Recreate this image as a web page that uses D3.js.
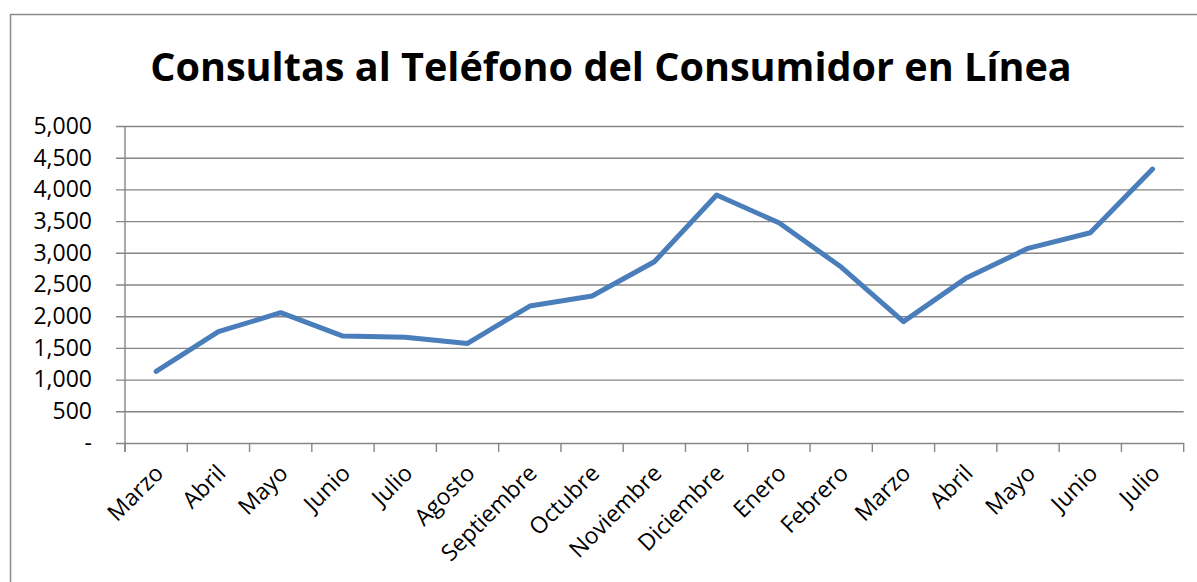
<!DOCTYPE html>
<html>
<head>
<meta charset="utf-8">
<script src="https://cdn.jsdelivr.net/npm/d3@7"></script>
<style>
    body { margin: 0; background: #fff; }
    text { font-family: "Open Sans", sans-serif; fill: #000; }
</style>
</head>
<body>
<div id="chartdiv"></div>
<script>

var meses = ["Marzo", "Abril", "Mayo", "Junio", "Julio", "Agosto", "Septiembre", "Octubre",
    "Noviembre", "Diciembre", "Enero", "Febrero", "Marzo", "Abril", "Mayo", "Junio", "Julio"];
var consultas = [1130, 1755, 2055, 1687, 1667, 1570, 2160, 2318,
    2859, 3911, 3474, 2775, 1915, 2597, 3070, 3317, 4321];
var yTicks = [0, 500, 1000, 1500, 2000, 2500, 3000, 3500, 4000, 4500, 5000];
var titulo = "Consultas al Teléfono del Consumidor en Línea";

var margin = {top: 126, right: 13.3, bottom: 139, left: 125},
    totalW = 1197, totalH = 582,
    width = totalW - margin.left - margin.right,
    height = totalH - margin.top - margin.bottom;

var svg = d3.select("#chartdiv").append("svg")
    .attr("width", totalW)
    .attr("height", totalH);

// chart border (runs off the right / bottom edge)
svg.append("rect")
    .attr("x", 10.5)
    .attr("y", 14.5)
    .attr("width", 1200)
    .attr("height", 600)
    .attr("fill", "none")
    .attr("stroke", "#8c8c8c")
    .attr("stroke-width", 1.5);

var title = svg.append("text")
    .attr("x", 611)
    .attr("y", 81)
    .attr("text-anchor", "middle")
    .style("font-weight", "bold")
    .style("font-size", "44px")
    .text(titulo);
// fit the title to the width it takes in the original
var tw = title.node().getComputedTextLength();
title.style("font-size", (44 * 922 / tw) + "px");

var g = svg.append("g")
    .attr("transform", "translate(" + margin.left + "," + margin.top + ")");

var x = d3.scaleBand()
    .domain(d3.range(meses.length))
    .range([0, width]);

var y = d3.scaleLinear()
    .domain([0, 5000])
    .range([height, 0]);

// gridlines + y axis
var yAxis = d3.axisLeft(y)
    .tickValues(yTicks)
    .tickSize(-width - 9)
    .tickPadding(24)
    .tickFormat(function (d) {
        return d === 0 ? "-" : d3.format(",")(d);
    });

var yg = g.append("g")
    .attr("class", "y axis")
    .attr("transform", "translate(-9,0)")
    .call(yAxis);
yg.select(".domain").remove();
yg.selectAll(".tick line")
    .attr("stroke", "#868686")
    .attr("stroke-width", 1.4);
yg.selectAll(".tick text")
    .attr("x", -24)
    .style("font-size", "23px");

// vertical axis line
g.append("line")
    .attr("x1", 0).attr("x2", 0)
    .attr("y1", 0).attr("y2", height + 9)
    .attr("stroke", "#868686")
    .attr("stroke-width", 1.4);

// x axis ticks at band edges
var edges = d3.range(meses.length + 1).map(function (i) {
    return i * x.bandwidth();
});
g.selectAll(".xtick")
    .data(edges)
    .enter().append("line")
    .attr("class", "xtick")
    .attr("x1", function (d) { return d; })
    .attr("x2", function (d) { return d; })
    .attr("y1", height)
    .attr("y2", height + 9)
    .attr("stroke", "#868686")
    .attr("stroke-width", 1.4);

g.selectAll(".xlabel")
    .data(meses)
    .enter().append("text")
    .attr("class", "xlabel")
    .attr("text-anchor", "end")
    .attr("dy", "0.35em")
    .style("font-size", "23px")
    .attr("transform", function (d, i) {
        var cx = x(i) + x.bandwidth() / 2;
        return "translate(" + (cx + 3) + "," + (height + 26) + ") rotate(-45)";
    })
    .text(function (d) { return d; });

var line = d3.line()
    .x(function (d, i) { return x(i) + x.bandwidth() / 2; })
    .y(function (d) { return y(d); });

g.append("path")
    .datum(consultas)
    .attr("fill", "none")
    .attr("stroke", "#4a7ebb")
    .attr("stroke-width", 5)
    .attr("stroke-linejoin", "round")
    .attr("stroke-linecap", "round")
    .attr("d", line);

</script>
</body>
</html>
